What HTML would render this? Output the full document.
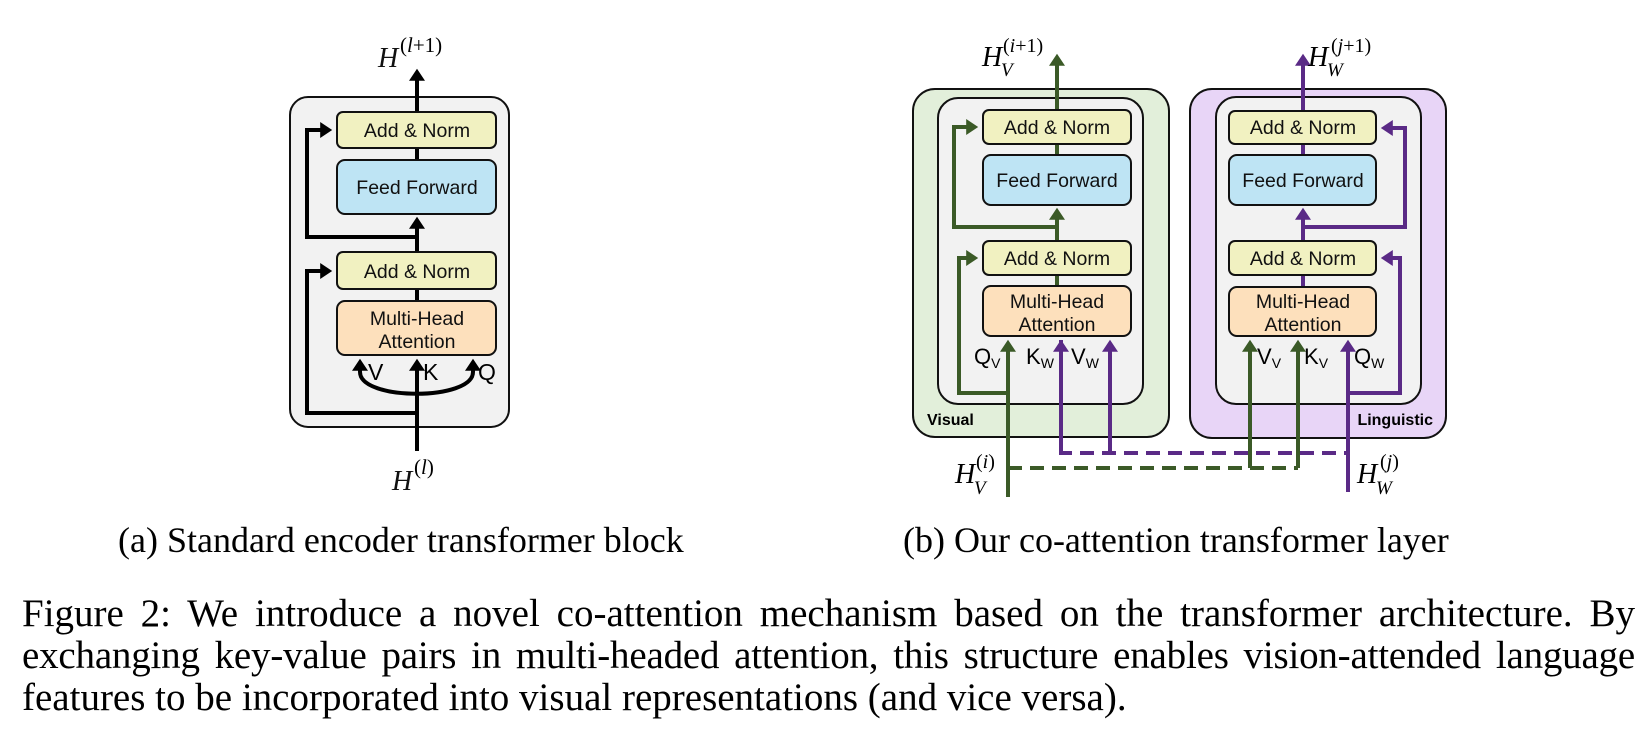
<!DOCTYPE html>
<html><head><meta charset="utf-8"><style>
html,body{margin:0;padding:0;background:#fff;}
body{width:1650px;height:734px;overflow:hidden;position:relative;}
svg{position:absolute;left:0;top:0;}
.bx{font-family:"Liberation Sans",sans-serif;font-size:19.5px;fill:#111;text-anchor:middle;}
.m{font-family:"Liberation Serif",serif;font-style:italic;fill:#111;}
.cap{position:absolute;font-family:"Liberation Serif",serif;color:#000;white-space:nowrap;}
.ln{white-space:nowrap;text-align:justify;text-align-last:justify;}
</style></head><body>
<svg width="1650" height="734" viewBox="0 0 1650 734">
<defs>
<marker id="ak" markerWidth="4" markerHeight="4" refX="2.2" refY="2" orient="auto" markerUnits="strokeWidth"><path d="M0,0 L3,2 L0,4 z" fill="#000"/></marker>
<marker id="ag" markerWidth="4" markerHeight="4" refX="2.2" refY="2" orient="auto" markerUnits="strokeWidth"><path d="M0,0 L3,2 L0,4 z" fill="#3b5a27"/></marker>
<marker id="ap" markerWidth="4" markerHeight="4" refX="2.2" refY="2" orient="auto" markerUnits="strokeWidth"><path d="M0,0 L3,2 L0,4 z" fill="#5a2a86"/></marker>
</defs>

<rect x="290" y="97" width="219" height="330" rx="18" fill="#f2f2f2" stroke="#111" stroke-width="2"/>
<g fill="none" stroke="#000" stroke-width="4">
<line x1="417" y1="451" x2="417" y2="362" marker-end="url(#ak)"/>
<line x1="417" y1="355" x2="417" y2="289"/>
<line x1="417" y1="252" x2="417" y2="220" marker-end="url(#ak)"/>
<line x1="417" y1="160" x2="417" y2="148"/>
<line x1="417" y1="112" x2="417" y2="72" marker-end="url(#ak)"/>
<polyline points="417,413 307,413 307,271 329,271" marker-end="url(#ak)"/>
<polyline points="417,237 307,237 307,130 329,130" marker-end="url(#ak)"/>
<path d="M360,372 C360,401 473,401 473,372"/>
<line x1="360" y1="372" x2="360" y2="362" marker-end="url(#ak)"/>
<line x1="473" y1="372" x2="473" y2="362" marker-end="url(#ak)"/>
</g>
<rect x="337" y="112" width="159" height="36" rx="6" fill="#f1f1c1" stroke="#111" stroke-width="2"/>
<rect x="337" y="160" width="159" height="54" rx="8" fill="#bee4f4" stroke="#111" stroke-width="2"/>
<rect x="337" y="252" width="159" height="37" rx="6" fill="#f1f1c1" stroke="#111" stroke-width="2"/>
<rect x="337" y="301" width="159" height="54" rx="8" fill="#fde0bc" stroke="#111" stroke-width="2"/>
<text class="bx" x="417" y="137">Add &amp; Norm</text>
<text class="bx" x="417" y="194">Feed Forward</text>
<text class="bx" x="417" y="278">Add &amp; Norm</text>
<text class="bx" x="417" y="325">Multi-Head</text>
<text class="bx" x="417" y="348">Attention</text>
<g font-family="Liberation Sans,sans-serif" font-size="23" fill="#000">
<text x="368" y="380">V</text><text x="423" y="380">K</text><text x="478" y="380">Q</text>
</g>
<text class="m" x="378" y="67" font-size="28">H</text>
<text x="400" y="52" font-family="Liberation Serif,serif" font-size="21">(<tspan font-style="italic">l</tspan>+1)</text>
<text class="m" x="392" y="490" font-size="28">H</text>
<text x="414" y="474" font-family="Liberation Serif,serif" font-size="21">(<tspan font-style="italic">l</tspan>)</text>

<rect x="913" y="89" width="256" height="348" rx="22" fill="#e2efda" stroke="#111" stroke-width="2"/>
<rect x="938" y="98" width="205" height="306" rx="20" fill="#f2f2f2" stroke="#111" stroke-width="2"/>
<rect x="1190" y="89" width="256" height="349" rx="22" fill="#e8d5f7" stroke="#111" stroke-width="2"/>
<rect x="1216" y="97" width="205" height="307" rx="20" fill="#f2f2f2" stroke="#111" stroke-width="2"/>

<polyline points="1061,340 1061,453 1348,453" fill="none" stroke="#5a2a86" stroke-width="4" stroke-dasharray="14,8"/>
<polyline points="1008,468 1298,468" fill="none" stroke="#3b5a27" stroke-width="4" stroke-dasharray="14,8"/>

<g fill="none" stroke="#3b5a27" stroke-width="4">
<line x1="1008" y1="497" x2="1008" y2="343" marker-end="url(#ag)"/>
<polyline points="1008,393 959,393 959,258 975,258" marker-end="url(#ag)"/>
<line x1="1057" y1="286" x2="1057" y2="275"/>
<line x1="1057" y1="241" x2="1057" y2="211" marker-end="url(#ag)"/>
<polyline points="1057,227 954,227 954,127 975,127" marker-end="url(#ag)"/>
<line x1="1057" y1="155" x2="1057" y2="144"/>
<line x1="1057" y1="110" x2="1057" y2="57" marker-end="url(#ag)"/>
<line x1="1250" y1="468" x2="1250" y2="343" marker-end="url(#ag)"/>
<line x1="1298" y1="468" x2="1298" y2="343" marker-end="url(#ag)"/>
</g>
<g fill="none" stroke="#5a2a86" stroke-width="4">
<line x1="1061" y1="453" x2="1061" y2="343" marker-end="url(#ap)"/>
<line x1="1110" y1="453" x2="1110" y2="343" marker-end="url(#ap)"/>
<line x1="1348" y1="492" x2="1348" y2="343" marker-end="url(#ap)"/>
<polyline points="1348,393 1400,393 1400,258 1384,258" marker-end="url(#ap)"/>
<line x1="1303" y1="287" x2="1303" y2="275"/>
<line x1="1303" y1="241" x2="1303" y2="211" marker-end="url(#ap)"/>
<polyline points="1303,227 1405,227 1405,128 1384,128" marker-end="url(#ap)"/>
<line x1="1303" y1="155" x2="1303" y2="144"/>
<line x1="1303" y1="111" x2="1303" y2="57" marker-end="url(#ap)"/>
</g>

<g stroke="#111" stroke-width="2">
<rect x="983" y="110" width="148" height="34" rx="6" fill="#f1f1c1"/>
<rect x="983" y="155" width="148" height="50" rx="8" fill="#bee4f4"/>
<rect x="983" y="241" width="148" height="34" rx="6" fill="#f1f1c1"/>
<rect x="983" y="286" width="148" height="50" rx="8" fill="#fde0bc"/>
<rect x="1229" y="111" width="147" height="33" rx="6" fill="#f1f1c1"/>
<rect x="1229" y="155" width="147" height="50" rx="8" fill="#bee4f4"/>
<rect x="1229" y="241" width="147" height="34" rx="6" fill="#f1f1c1"/>
<rect x="1229" y="287" width="147" height="49" rx="8" fill="#fde0bc"/>
</g>
<text class="bx" x="1057" y="134">Add &amp; Norm</text>
<text class="bx" x="1057" y="187">Feed Forward</text>
<text class="bx" x="1057" y="265">Add &amp; Norm</text>
<text class="bx" x="1057" y="308">Multi-Head</text>
<text class="bx" x="1057" y="331">Attention</text>
<text class="bx" x="1303" y="134">Add &amp; Norm</text>
<text class="bx" x="1303" y="187">Feed Forward</text>
<text class="bx" x="1303" y="265">Add &amp; Norm</text>
<text class="bx" x="1303" y="308">Multi-Head</text>
<text class="bx" x="1303" y="331">Attention</text>

<g font-family="Liberation Sans,sans-serif" font-size="22" fill="#000">
<text x="974" y="364">Q<tspan font-size="14" dy="4">V</tspan></text>
<text x="1026" y="364">K<tspan font-size="14" dy="4">W</tspan></text>
<text x="1071" y="364">V<tspan font-size="14" dy="4">W</tspan></text>
<text x="1257" y="364">V<tspan font-size="14" dy="4">V</tspan></text>
<text x="1304" y="364">K<tspan font-size="14" dy="4">V</tspan></text>
<text x="1354" y="364">Q<tspan font-size="14" dy="4">W</tspan></text>
</g>
<text x="927" y="425" font-family="Liberation Sans,sans-serif" font-weight="bold" font-size="16" fill="#000">Visual</text>
<text x="1433" y="425" text-anchor="end" font-family="Liberation Sans,sans-serif" font-weight="bold" font-size="16" fill="#000">Linguistic</text>

<g font-family="Liberation Serif,serif" fill="#000">
<text x="982" y="66" font-size="28" font-style="italic">H</text>
<text x="1001" y="76" font-size="19" font-style="italic">V</text>
<text x="1003" y="52" font-size="20">(<tspan font-style="italic">i</tspan>+1)</text>
<text x="1308" y="66" font-size="28" font-style="italic">H</text>
<text x="1327" y="76" font-size="19" font-style="italic">W</text>
<text x="1331" y="52" font-size="20">(<tspan font-style="italic">j</tspan>+1)</text>
<text x="955" y="483" font-size="28" font-style="italic">H</text>
<text x="974" y="494" font-size="19" font-style="italic">V</text>
<text x="976" y="468" font-size="20">(<tspan font-style="italic">i</tspan>)</text>
<text x="1357" y="483" font-size="28" font-style="italic">H</text>
<text x="1376" y="494" font-size="19" font-style="italic">W</text>
<text x="1380" y="468" font-size="20">(<tspan font-style="italic">j</tspan>)</text>
</g>
</svg>

<div class="cap" style="left:118px;top:519px;font-size:36px;">(a) Standard encoder transformer block</div>
<div class="cap" style="left:903px;top:519px;font-size:36px;">(b) Our co-attention transformer layer</div>
<div class="cap" style="left:22px;top:593px;width:1613px;font-size:39px;line-height:42px;white-space:normal;">
<div class="ln">Figure 2: We introduce a novel co-attention mechanism based on the transformer architecture. By</div>
<div class="ln" style="letter-spacing:-0.2px;">exchanging key-value pairs in multi-headed attention, this structure enables vision-attended language</div>
<div style="white-space:nowrap;">features to be incorporated into visual representations (and vice versa).</div>
</div>
</body></html>
